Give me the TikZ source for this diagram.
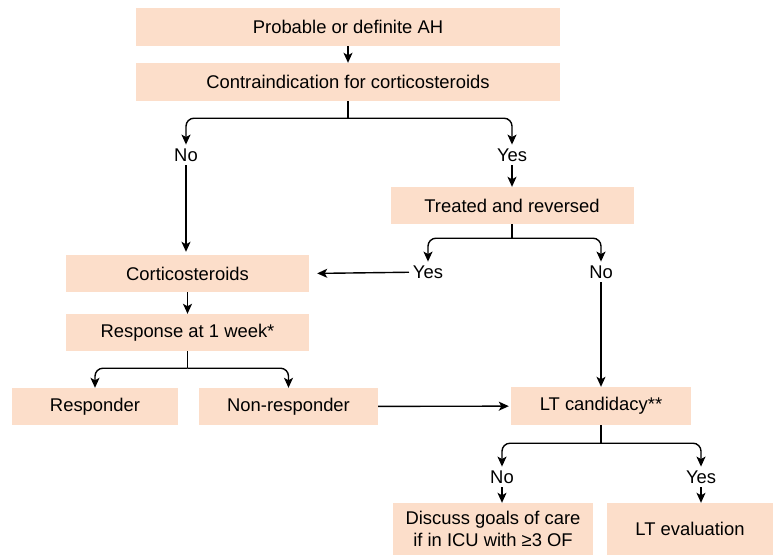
\documentclass[tikz,border=0pt]{standalone}
\usepackage{fontspec}
\setmainfont{Liberation Sans}
\usetikzlibrary{arrows.meta}
\definecolor{peach}{RGB}{252,222,202}

\begin{document}
\begin{tikzpicture}[x=1pt,y=-1pt,
    font=\fontsize{18.4}{22}\selectfont,
    box/.style={fill=peach, minimum height=37pt, inner sep=0pt, align=center},
    lbl/.style={inner sep=1pt, outer sep=3pt},
    arr/.style={line width=1.4pt, -{Stealth[length=10pt,width=9pt,inset=2.5pt]}},
    ln/.style={line width=1.4pt}]
    \useasboundingbox (0,0) rectangle (775,555);
    % boxes
    \node[box, minimum width=424pt, minimum height=38pt] (ah) at (348,27) {Probable or definite AH};
    \node[box, minimum width=424pt, minimum height=38pt] (ci) at (348,82) {Contraindication for corticosteroids};
    \node[box, minimum width=243pt] (tr) at (512,205.5) {Treated and reversed};
    \node[box, minimum width=243pt] (cs) at (187.5,273.5) {Corticosteroids};
    \node[box, minimum width=243pt] (rw) at (187.5,332.5) {Response at 1 week*};
    \node[box, minimum width=166pt] (re) at (95,406.5) {Responder};
    \node[box, minimum width=179pt] (nr) at (288.5,406.5) {Non-responder};
    \node[box, minimum width=180pt, minimum height=38pt] (lt) at (601,406) {LT candidacy**};
    \node[box, minimum width=200pt, minimum height=52pt] (dg) at (493,529) {Discuss goals of care\\if in ICU with ≥3 OF};
    \node[box, minimum width=166pt, minimum height=52pt] (ev) at (690,529) {LT evaluation};
    % labels
    \node[lbl] (no1) at (186,155) {No};
    \node[lbl] (yes1) at (512,155) {Yes};
    \node[lbl] (yes2) at (428,272) {Yes};
    \node[lbl] (no2) at (601,272) {No};
    \node[lbl] (no3) at (502,477) {No};
    \node[lbl] (yes3) at (701,477) {Yes};
    % connectors
    \draw[arr] (ah) -- (ci);
    \draw[ln] (ci.south) -- ++(0,17) coordinate (b1);
    \draw[arr, rounded corners=8pt] (b1) -| (no1.north);
    \draw[arr, rounded corners=8pt] (b1) -| (yes1.north);
    \draw[arr, shorten >=3pt] (no1.south) -- (no1.south |- cs.north);
    \draw[arr] (yes1) -- (tr.north);
    \draw[ln] (tr.south) -- ++(0,14) coordinate (b2);
    \draw[arr, rounded corners=8pt] (b2) -| (yes2.north);
    \draw[arr, rounded corners=8pt] (b2) -| (no2.north);
    \draw[arr, shorten >=8pt] (yes2) -- (cs.east);
    \draw[arr] (no2) -- (lt.north);
    \draw[arr] (cs) -- (rw);
    \draw[ln] (rw.south) -- ++(0,17) coordinate (b3);
    \draw[arr, rounded corners=8pt] (b3) -| (re.north);
    \draw[arr, rounded corners=8pt] (b3) -| (nr.north);
    \draw[arr, shorten >=2pt] (nr) -- (lt);
    \draw[ln] (lt.south) -- ++(0,18) coordinate (b4);
    \draw[arr, rounded corners=8pt] (b4) -| (no3.north);
    \draw[arr, rounded corners=8pt] (b4) -| (yes3.north);
    \draw[arr] (no3.south) -- (no3.south |- dg.north);
    \draw[arr] (yes3.south) -- (yes3.south |- ev.north);
\end{tikzpicture}
\end{document}
